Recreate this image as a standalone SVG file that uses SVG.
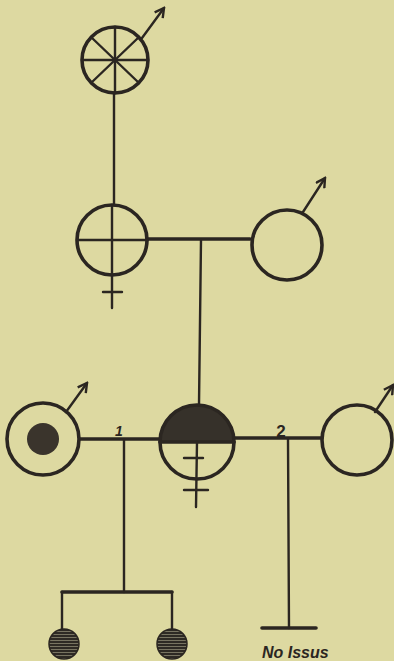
<svg xmlns="http://www.w3.org/2000/svg" width="394" height="661" viewBox="0 0 394 661">
<defs>
<style>
.ink{stroke:#2b2621;fill:none;stroke-linecap:round}
.c{stroke-width:3.6}
.l{stroke-width:2.4}
.m{stroke-width:3.6}
.lbl{font-family:"Liberation Sans",Arial,sans-serif;fill:#2b2621;font-weight:bold}
</style>
<marker id="arr" viewBox="0 0 12 12" refX="10" refY="6" markerWidth="12" markerHeight="12" markerUnits="userSpaceOnUse" orient="auto">
<path d="M1,1 L10,6 L1,11" fill="none" stroke="#2b2621" stroke-width="2.4"/>
</marker>
<pattern id="hatch" width="4" height="3" patternUnits="userSpaceOnUse">
<rect width="4" height="3" fill="#2e2a24"/>
<rect y="1.2" width="4" height="0.8" fill="#8a8670"/>
</pattern>
</defs>
<rect width="394" height="661" fill="#ddd9a1"/>
<g id="connectors" class="ink">
<line class="l" x1="114" y1="93" x2="114" y2="205"/>
<line class="m" x1="148" y1="239" x2="250" y2="239"/>
<line class="l" x1="201" y1="240" x2="199" y2="405"/>
<line class="m" x1="80" y1="439" x2="159" y2="439"/>
<line class="l" x1="124" y1="440" x2="124" y2="592"/>
<line class="m" x1="234" y1="438" x2="321" y2="438"/>
<line class="l" x1="288" y1="439" x2="289" y2="628"/>
<line class="m" x1="262" y1="628" x2="316" y2="628"/>
<line class="m" x1="62" y1="592" x2="172" y2="592"/>
<line class="l" x1="62" y1="592" x2="62" y2="630"/>
<line class="l" x1="172" y1="592" x2="172" y2="630"/>
</g>
<g id="grandfather" class="ink">
<circle class="c" cx="115" cy="60" r="33"/>
<line class="l" x1="115" y1="27" x2="115" y2="93"/>
<line class="l" x1="82" y1="60" x2="148" y2="60"/>
<line class="l" x1="91" y1="37" x2="139" y2="83"/>
<line class="l" x1="139" y1="37" x2="91" y2="83"/>
<line class="l" x1="142" y1="38" x2="164" y2="8" marker-end="url(#arr)"/>
</g>
<g id="mother" class="ink">
<circle class="c" cx="112" cy="240" r="35"/>
<line class="l" x1="112" y1="205" x2="112" y2="308"/>
<line class="l" x1="77" y1="240" x2="148" y2="240"/>
<line class="l" x1="103" y1="292" x2="122" y2="292"/>
</g>
<g id="father" class="ink">
<circle class="c" cx="287" cy="245" r="35"/>
<line class="l" x1="303" y1="212" x2="325" y2="178" marker-end="url(#arr)"/>
</g>
<g id="husband1" class="ink">
<circle class="c" cx="43" cy="439" r="36"/>
<circle cx="43" cy="439" r="16" fill="#3a342c" stroke="none"/>
<line class="l" x1="66" y1="412" x2="87" y2="383" marker-end="url(#arr)"/>
</g>
<g id="proband" class="ink">
<path d="M160,442 A37,37 0 0 1 234,442 Z" fill="#36312a" stroke="none"/>
<circle class="c" cx="197" cy="442" r="37"/>
<line class="c" x1="160" y1="442" x2="234" y2="442"/>
<line class="l" x1="197" y1="442" x2="196" y2="507"/>
<line class="l" x1="184" y1="458" x2="203" y2="458"/>
<line class="l" x1="184" y1="490" x2="208" y2="490"/>
</g>
<g id="husband2" class="ink">
<circle class="c" cx="357" cy="440" r="35"/>
<line class="l" x1="375" y1="412" x2="393" y2="385" marker-end="url(#arr)"/>
</g>
<g id="child1" class="ink">
<circle cx="64" cy="644" r="15" fill="url(#hatch)" stroke="#2b2621" stroke-width="1.5"/>
</g>
<g id="child2" class="ink">
<circle cx="172" cy="644" r="15" fill="url(#hatch)" stroke="#2b2621" stroke-width="1.5"/>
</g>
<g id="labels">
<text class="lbl" x="119" y="436" font-size="14" text-anchor="middle" font-style="italic">1</text>
<text class="lbl" x="281" y="437" font-size="17" text-anchor="middle">2</text>
<text class="lbl" x="262" y="658" font-size="16" font-style="italic">No Issus</text>
</g>
</svg>
